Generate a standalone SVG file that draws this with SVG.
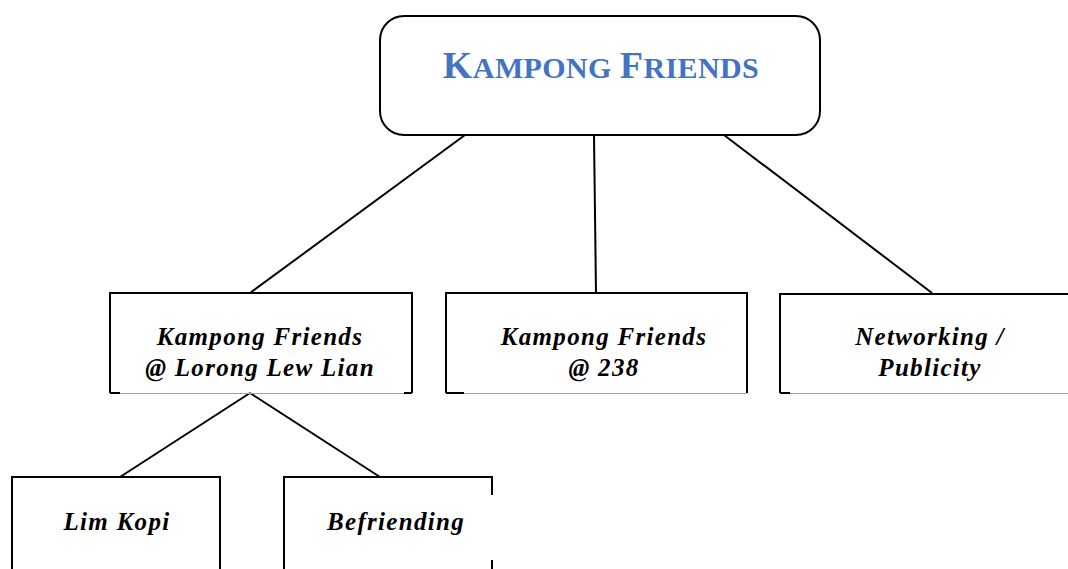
<svg xmlns="http://www.w3.org/2000/svg" width="1068" height="569" viewBox="0 0 1068 569">
<style>
.edge{stroke:#000;stroke-width:2;fill:none}
.bd{stroke:#000;stroke-width:2;fill:none}
.bot{stroke:#a0a0a0;stroke-width:1;fill:none}
.lbl{font-family:"Liberation Serif","Times New Roman",serif;font-weight:bold;font-style:italic;font-size:25px;letter-spacing:1.3px;fill:#000;text-anchor:middle}
.title{font-family:"Liberation Serif","Times New Roman",serif;font-weight:bold;fill:#4472C4;text-anchor:middle;letter-spacing:0.4px}
</style>
<rect width="1068" height="569" fill="#fff"/>
<g id="connectors">
<line class="edge" x1="465" y1="135" x2="250" y2="293"/>
<line class="edge" x1="594" y1="135" x2="596" y2="293"/>
<line class="edge" x1="724" y1="135" x2="932" y2="293"/>
<line class="edge" x1="250" y1="393" x2="120" y2="477"/>
<line class="edge" x1="250" y1="393" x2="380" y2="477"/>
</g>
<g id="root">
<rect x="380" y="16" width="440" height="119" rx="24" ry="24" fill="#fff" stroke="#000" stroke-width="2"/>
<text class="title" x="601" y="78"><tspan font-size="38">K</tspan><tspan font-size="30">AMPONG </tspan><tspan font-size="38">F</tspan><tspan font-size="30">RIENDS</tspan></text>
</g>
<g id="n1">
<path class="bd" d="M110,393 V293 H412 V393"/>
<line class="bot" x1="110" y1="393.5" x2="412" y2="393.5"/>
<path class="bd" d="M110,393 H120 M404,393 H412"/>
<text class="lbl" x="260" y="345">Kampong Friends</text>
<text class="lbl" x="260" y="376">@ Lorong Lew Lian</text>
</g>
<g id="n2">
<path class="bd" d="M446,393 V293 H747 V393"/>
<line class="bot" x1="446" y1="393.5" x2="747" y2="393.5"/>
<path class="bd" d="M446,393 H464"/>
<text class="lbl" x="604" y="345">Kampong Friends</text>
<text class="lbl" x="604" y="376">@ 238</text>
</g>
<g id="n3">
<path class="bd" d="M780,393 V294 H1070"/>
<line class="bot" x1="780" y1="393.5" x2="1068" y2="393.5"/>
<path class="bd" d="M780,393 H790"/>
<text class="lbl" x="930" y="345">Networking /</text>
<text class="lbl" x="930" y="376">Publicity</text>
</g>
<g id="n4">
<path class="bd" d="M12,570 V477 H220 V570"/>
<text class="lbl" x="117" y="530">Lim Kopi</text>
</g>
<g id="n5">
<path class="bd" d="M284,570 V477 H492 V495 M492,560 V570"/>
<text class="lbl" x="396" y="530">Befriending</text>
</g>
</svg>
